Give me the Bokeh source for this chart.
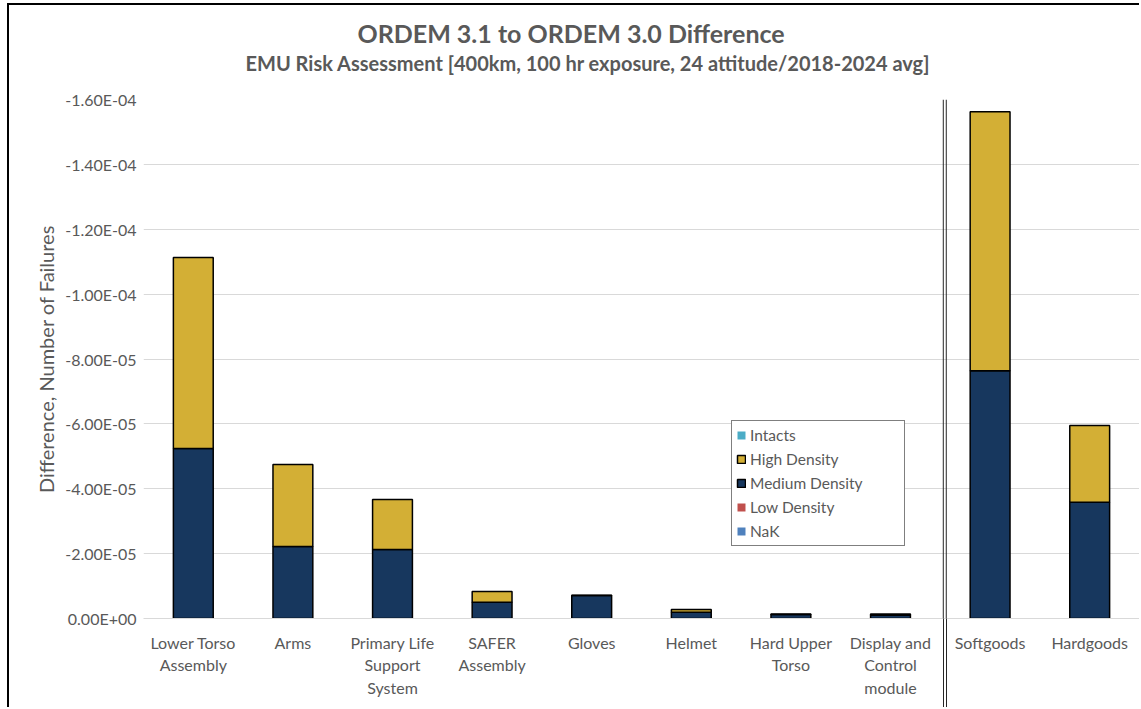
from bokeh.plotting import figure
from bokeh.models import (Range1d, FixedTicker, CustomJSTickFormatter, Span, LinearAxis,
                          Legend, LegendItem, ColumnDataSource, Title)
from bokeh.embed import file_html
from bokeh.resources import INLINE

# ---------------- data ----------------
categories = ["Lower Torso\nAssembly", "Arms", "Primary Life\nSupport\nSystem", "SAFER\nAssembly",
              "Gloves", "Helmet", "Hard Upper\nTorso", "Display and\nControl\nmodule",
              "Softgoods", "Hardgoods"]
n_components = 8  # suit components left of the separator; aggregates to the right

medium_density = [-5.24e-5, -2.22e-5, -2.13e-5, -0.50e-5, -0.71e-5, -0.19e-5, -0.12e-5, -0.10e-5, -7.64e-5, -3.58e-5]
high_density   = [-5.89e-5, -2.53e-5, -1.54e-5, -0.33e-5, -0.01e-5, -0.09e-5, -0.02e-5, -0.04e-5, -7.98e-5, -2.37e-5]
intacts        = [0.0] * 10
low_density    = [0.0] * 10
nak            = [0.0] * 10

y_ticks = [0.0, -2e-5, -4e-5, -6e-5, -8e-5, -1.0e-4, -1.2e-4, -1.4e-4, -1.6e-4]

title = "ORDEM 3.1 to ORDEM 3.0 Difference"
subtitle = "EMU Risk Assessment [400km, 100 hr exposure, 24 attitude/2018-2024 avg]"
y_label = "Difference, Number of Failures"

FONT = "Lato"
GRAY = "#595959"
n = len(categories)
slots = [i + 0.5 for i in range(n)]  # category slot centres on the x scale

# ---------------- figure ----------------
p = figure(width=1132, height=704, output_backend="svg", toolbar_location=None,
           x_range=Range1d(0, n), y_range=Range1d(start=0.0, end=y_ticks[-1]),
           min_border_left=134, min_border_right=2, min_border_top=94, min_border_bottom=91,
           styles={"margin-left": "7px", "margin-top": "3px",
                   "border-left": "2px solid black", "border-top": "2px solid black"})
p.outline_line_color = None
p.background_fill_color = "white"
p.border_fill_color = "white"

p.xgrid.visible = False
p.ygrid.ticker = FixedTicker(ticks=y_ticks)
p.ygrid.grid_line_color = "#D9D9D9"
p.ygrid.grid_line_width = 1

ax = p.yaxis[0]
ax.ticker = FixedTicker(ticks=y_ticks)
ax.formatter = CustomJSTickFormatter(code="""
    let s = tick.toExponential(2).toUpperCase();
    return s.replace(/E([+-])(\\d)$/, function(m, sg, d) { return "E" + sg + "0" + d; });
""")
ax.axis_line_color = None
ax.major_tick_line_color = None
ax.minor_tick_line_color = None
ax.major_tick_out = 0
ax.minor_tick_out = 0
ax.major_label_standoff = 7
ax.major_label_text_font = FONT
ax.major_label_text_font_size = "16px"
ax.major_label_text_color = GRAY
ax.axis_label = y_label
ax.axis_label_text_font = FONT
ax.axis_label_text_font_size = "20px"
ax.axis_label_text_font_style = "normal"
ax.axis_label_text_color = GRAY
ax.axis_label_standoff = 4

# category axis; the separator below the plot is drawn as two long minor ticks
xax = p.xaxis[0]
xax.ticker = FixedTicker(ticks=slots, minor_ticks=[n_components + 0.03, n_components + 0.06])
xax.formatter = CustomJSTickFormatter(args=dict(cats=categories),
                                      code="return cats[Math.floor(tick)];")
xax.axis_line_color = "#D9D9D9"
xax.major_tick_out = 0
xax.major_tick_in = 0
xax.major_tick_line_color = None
xax.minor_tick_out = 91
xax.minor_tick_in = 0
xax.minor_tick_line_color = "#262626"
xax.minor_tick_line_width = 1
xax.major_label_standoff = -77
xax.major_label_text_font = FONT
xax.major_label_text_font_size = "16px"
xax.major_label_text_color = GRAY
xax.major_label_text_line_height = 1.2

# invisible spacer axis between the plot and the subtitle
spacer = LinearAxis(ticker=FixedTicker(ticks=[0.0]),
                    formatter=CustomJSTickFormatter(code="return '';"),
                    axis_line_color=None,
                    major_tick_out=24, major_tick_in=0, major_tick_line_color=None,
                    minor_tick_out=0, minor_tick_line_color=None, major_label_standoff=0,
                    major_label_text_font_size="1px")
p.add_layout(spacer, "above")

src = ColumnDataSource(dict(x=slots, NaK=nak, Low=low_density, Medium=medium_density,
                            High=high_density, Intacts=intacts))
stack = ["NaK", "Low", "Medium", "High", "Intacts"]
fills = ["#4F81BD", "#C0504D", "#17375E", "#D3AF35", "#4BACC6"]
line_alphas = [0, 0, 1, 1, 0]
rs = p.vbar_stack(stack, x="x", width=0.40, source=src, fill_color=fills,
                  line_color="black", line_width=1.5, line_alpha=line_alphas)

# separator between components and aggregates (double line)
for off in (0.03, 0.06):
    p.add_layout(Span(location=n_components + off, dimension="height",
                      line_color="#262626", line_width=1))

legend = Legend(items=[
    LegendItem(label="Intacts", renderers=[rs[4]]),
    LegendItem(label="High Density", renderers=[rs[3]]),
    LegendItem(label="Medium Density", renderers=[rs[2]]),
    LegendItem(label="Low Density", renderers=[rs[1]]),
    LegendItem(label="NaK", renderers=[rs[0]]),
], location=(588, 72), border_line_color="black", border_line_width=1,
   label_text_font=FONT, label_text_font_size="15.5px", label_text_color=GRAY,
   glyph_width=10, glyph_height=10, label_height=20, spacing=4, padding=4,
   label_standoff=4, label_width=150, margin=0, background_fill_alpha=1)
p.add_layout(legend)

p.add_layout(Title(text=subtitle, align="left", offset=102, text_font=FONT, text_font_size="20px",
                   text_font_style="bold", text_color=GRAY, standoff=2), "above")
p.add_layout(Title(text=title, align="left", offset=214, text_font=FONT, text_font_size="25px",
                   text_font_style="bold", text_color=GRAY, standoff=0), "above")

open("out.html", "w").write(file_html(p, INLINE))
